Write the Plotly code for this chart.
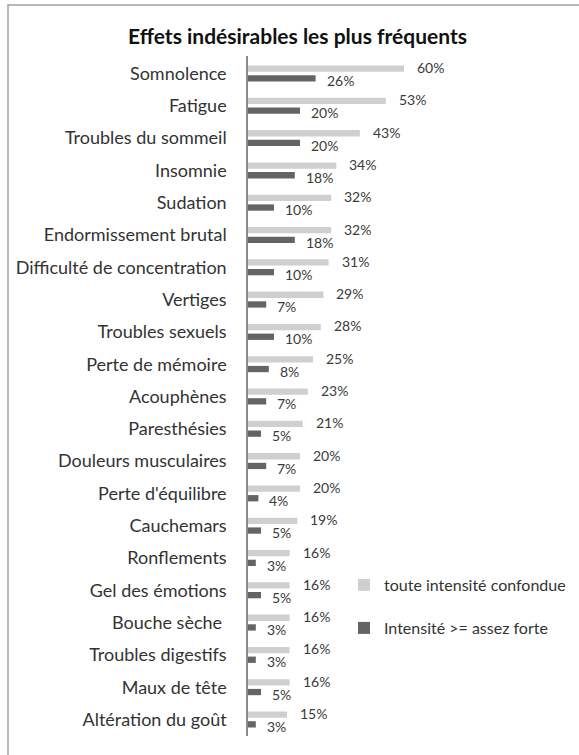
import plotly.graph_objects as go

categories = ["Somnolence", "Fatigue", "Troubles du sommeil", "Insomnie", "Sudation",
              "Endormissement brutal", "Difficulté de concentration", "Vertiges",
              "Troubles sexuels", "Perte de mémoire", "Acouphènes", "Paresthésies",
              "Douleurs musculaires", "Perte d'équilibre", "Cauchemars", "Ronflements",
              "Gel des émotions", "Bouche sèche ", "Troubles digestifs", "Maux de tête",
              "Altération du goût"]
toute_intensite = [60, 53, 43, 34, 32, 32, 31, 29, 28, 25, 23, 21, 20, 20, 19, 16, 16, 16, 16, 16, 15]
intensite_forte = [26, 20, 20, 18, 10, 18, 10, 7, 10, 8, 7, 5, 7, 4, 5, 3, 5, 3, 3, 5, 3]
series_names = ["toute intensité confondue", "Intensité >= assez forte"]

LIGHT = "#cfcfcf"
DARK = "#646464"
FONT = "Lato"
W, H = 579, 755

fig = go.Figure()
fig.add_trace(go.Bar(y=categories, x=toute_intensite, orientation="h", name=series_names[0],
                     marker=dict(color=LIGHT, line=dict(width=0)), legend="legend"))
fig.add_trace(go.Bar(y=categories, x=intensite_forte, orientation="h", name=series_names[1],
                     marker=dict(color=DARK, line=dict(width=0)), legend="legend2"))

annotations = []
for c, v in zip(categories, toute_intensite):
    annotations.append(dict(x=v, y=c, text=f"{v}%", showarrow=False, xanchor="left",
                            xshift=11, yshift=6, font=dict(family=FONT, size=14, color="#3a3a3a")))
for c, v in zip(categories, intensite_forte):
    annotations.append(dict(x=v, y=c, text=f"{v}%", showarrow=False, xanchor="left",
                            xshift=9, yshift=-7, font=dict(family=FONT, size=14, color="#3a3a3a")))
annotations.append(dict(text="<b>Effets indésirables les plus fréquents</b>", xref="paper", yref="paper",
                        x=(297 - 248) / 300, y=(736 - 35) / 680, xanchor="center", yanchor="middle",
                        showarrow=False, font=dict(family=FONT, size=21, color="#111111")))

fig.update_layout(
    width=W, height=H,
    margin=dict(l=248, r=31, t=56, b=19, autoexpand=False),
    paper_bgcolor="white", plot_bgcolor="white",
    barmode="group", bargap=0.4, bargroupgap=0.35,
    font=dict(family=FONT, size=17, color="#333333"),
    xaxis=dict(range=[0, 300 / 2.6], visible=False, fixedrange=True),
    yaxis=dict(autorange="reversed", showline=True, linecolor="#8a8a8a", linewidth=1.5,
               ticks="", ticklabelstandoff=16, tickfont=dict(family=FONT, size=18, color="#333333"),
               showgrid=False, automargin=False, fixedrange=True),
    legend=dict(xref="container", yref="container", x=344 / W, y=1 - 585 / H,
                xanchor="left", yanchor="middle",
                font=dict(family=FONT, size=16, color="#333333"), bgcolor="rgba(0,0,0,0)",
                itemwidth=30),
    legend2=dict(xref="container", yref="container", x=344 / W, y=1 - 628 / H,
                 xanchor="left", yanchor="middle",
                 font=dict(family=FONT, size=16, color="#333333"), bgcolor="rgba(0,0,0,0)",
                 itemwidth=30),
    annotations=annotations,
    shapes=[dict(type="rect", xref="paper", yref="paper",
                 x0=(8 - 248) / 300, x1=(590 - 248) / 300,
                 y0=(736 - 765) / 680, y1=(736 - 5) / 680,
                 line=dict(color="#a0a0a0", width=1.5), fillcolor="rgba(0,0,0,0)", layer="below")],
    showlegend=True,
)
fig.write_html("out.html", config={"displayModeBar": False},
               post_script="document.body.style.margin='0';")
